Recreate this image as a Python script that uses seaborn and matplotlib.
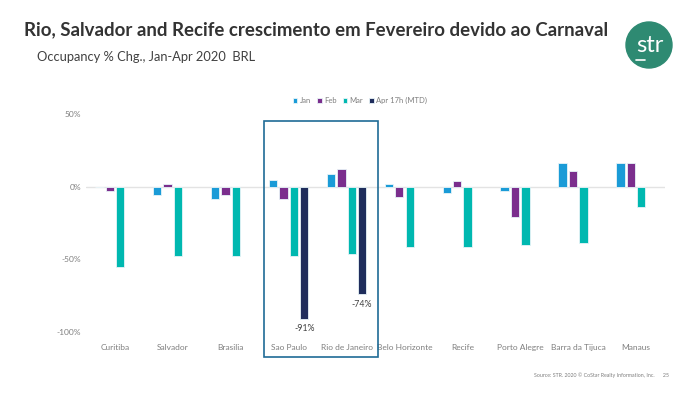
import numpy as np
import pandas as pd
import matplotlib
matplotlib.use("Agg")
import matplotlib.pyplot as plt
from matplotlib.patches import Rectangle, Ellipse
from matplotlib.lines import Line2D
import seaborn as sns

sns.set_style("white")
plt.rcParams['font.family'] = ['Lato', 'DejaVu Sans']

cities = ["Curitiba", "Salvador", "Brasilia", "Sao Paulo", "Rio de Janeiro",
          "Belo Horizonte", "Recife", "Porto Alegre", "Barra da Tijuca", "Manaus"]
jan = [0.0, -5.5, -8.5, 4.6, 8.8, 1.6, -4.4, -2.8, 16.6, 16.6]
feb = [-3.0, 2.0, -5.5, -8.8, 12.2, -7.0, 3.7, -21.0, 10.6, 16.6]
mar = [-55.0, -48.0, -47.7, -47.5, -46.5, -41.5, -41.5, -40.0, -38.7, -13.8]
apr = [np.nan, np.nan, np.nan, -91.0, -74.0, np.nan, np.nan, np.nan, np.nan, np.nan]
months = ["Jan", "Feb", "Mar", "Apr 17h (MTD)"]
colors = ["#1a9bd7", "#7b2e8d", "#00b8b0", "#1f2d5c"]

df = pd.DataFrame({"city": cities * 4,
                   "month": np.repeat(months, len(cities)),
                   "chg": jan + feb + mar + apr})

fig = plt.figure(figsize=(7, 3.94), dpi=100)
ax = fig.add_axes([0.1229, 0.1574, 0.8271, 0.5533])

sns.barplot(data=df.dropna(), x="city", y="chg", hue="month", order=cities,
            hue_order=months, palette=colors, saturation=1, width=0.72, gap=0.2,
            edgecolor="#e8f4f8", linewidth=0.6, ax=ax)

ax.set_ylim(-100, 50)
ax.set_xlim(-0.5, len(cities) - 0.5)
ax.set_yticks([-100, -50, 0, 50])
ax.set_yticklabels(["-100%", "-50%", "0%", "50%"])
ax.axhline(0, color="#e3e3e3", lw=1, zorder=0)
ax.tick_params(axis="both", length=0, labelsize=6, colors="#7f7f7f")
ax.tick_params(axis="x", pad=9)
ax.set_xlabel("")
ax.set_ylabel("")
sns.despine(ax=ax, left=True, bottom=True)

ax.bar_label(ax.containers[3], fmt="{:.0f}%", padding=4, fontsize=6.3, color="#404040")

ax.legend(loc="center", bbox_to_anchor=(0.473, 1.06), ncol=4, frameon=False,
          fontsize=5.5, handlelength=0.6, handleheight=0.6, handletextpad=0.3,
          columnspacing=0.8, labelcolor="#7f7f7f")

# highlight box around Sao Paulo / Rio
ax.add_patch(Rectangle((2.57, -117), 1.97, 162.4, fill=False, edgecolor="#1f6b96",
                       lw=1.2, clip_on=False, zorder=5))

fig.text(0.034, 0.925, "Rio, Salvador and Recife crescimento em Fevereiro devido ao Carnaval",
         fontsize=13.4, fontweight="bold", color="#333333", va="center")
fig.text(0.053, 0.855, "Occupancy % Chg., Jan-Apr 2020  BRL", fontsize=9.3,
         color="#404040", va="center")
fig.text(0.955, 0.047, "Source: STR. 2020 \u00a9 CoStar Realty Information, Inc.      25",
         fontsize=3.8, color="#7f7f7f", ha="right", va="center")

# logo
fig.add_artist(Ellipse((649 / 700, 1 - 45 / 394), 46 / 700, 46 / 394,
                       transform=fig.transFigure, color="#2e8a72"))
fig.text(650 / 700, 1 - 46 / 394, "str", fontsize=17, color="white",
         ha="center", va="center")
fig.add_artist(Line2D([636 / 700, 645 / 700], [1 - 60 / 394, 1 - 60 / 394],
                      transform=fig.transFigure, color="white", lw=1.2))

fig.savefig("out.png", dpi=100)
